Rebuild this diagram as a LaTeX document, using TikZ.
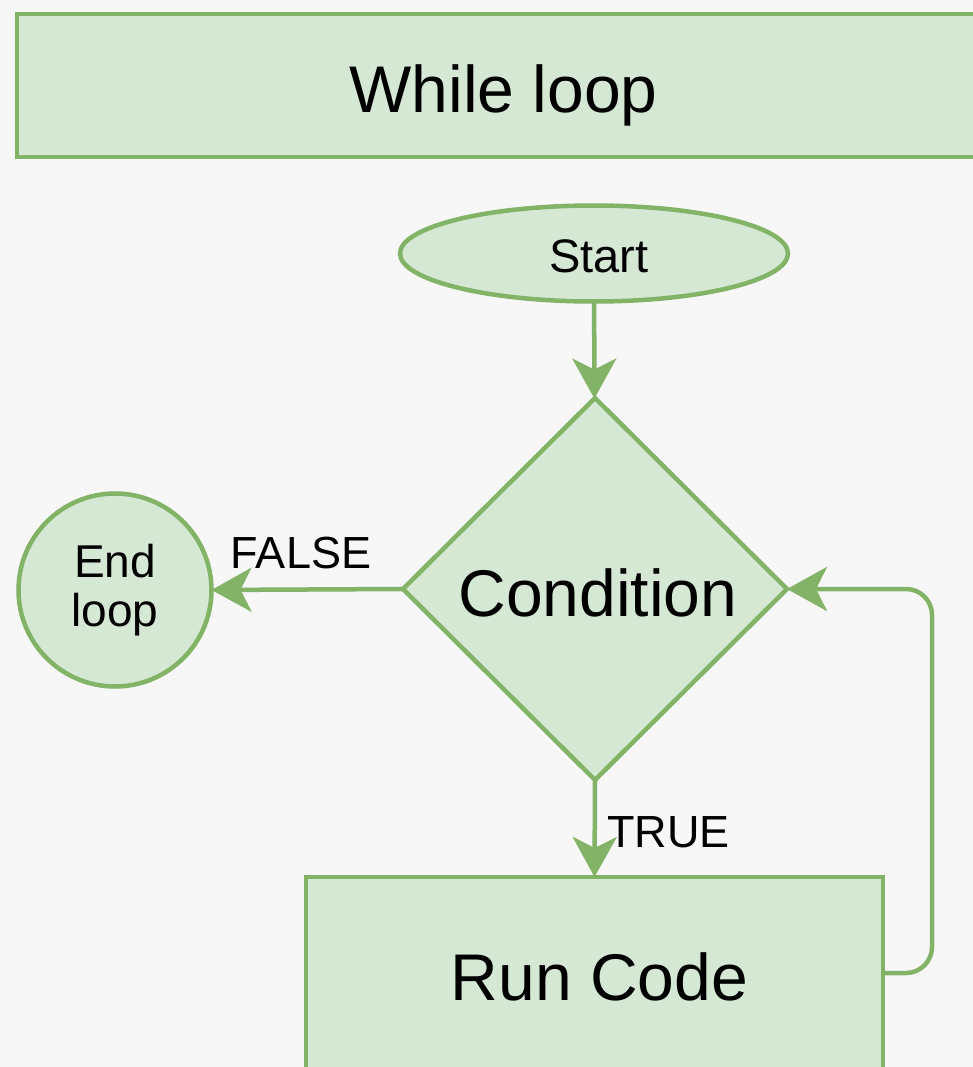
\documentclass[tikz,border=0pt]{standalone}
\usepackage{fontspec}
\setmainfont{Liberation Sans}
\usetikzlibrary{shapes.geometric,arrows.meta}
\definecolor{gstroke}{HTML}{82B366}
\definecolor{gfill}{HTML}{D5E8D4}
\definecolor{bgc}{HTML}{F8F7F7}
\tikzset{
  shp/.style={draw=gstroke, fill=gfill, line width=4.5pt, inner sep=0pt, outer sep=0pt, text=black},
  conn/.style={draw=gstroke, line width=4.5pt, -{Stealth[length=40pt,width=44pt,inset=11pt]}},
  lbl/.style={inner sep=0pt, text=black, font=\fontsize{45pt}{50pt}\selectfont}
}
\begin{document}
\begin{tikzpicture}[x=1pt,y=-1pt]
\fill[bgc] (0,0) rectangle (973,1067);
\useasboundingbox (0,0) rectangle (973,1067);
% title
\node[shp, rectangle, minimum width=973pt, minimum height=143pt, text height=55pt, text depth=0pt,
      font=\fontsize{66pt}{70pt}\selectfont] (title) at (503.5,85.5) {While loop};
% start
\node[shp, ellipse, minimum width=388pt, minimum height=96pt, text height=37pt, text depth=0pt,
      font=\fontsize{47pt}{50pt}\selectfont] (start) at (594,253.5) {\hspace*{10pt}Start};
% condition
\node[shp, diamond, minimum width=384pt, minimum height=382pt, text height=54pt, text depth=0pt,
      font=\fontsize{66pt}{70pt}\selectfont] (cond) at (595,589) {\hspace*{6pt}Condition};
% end loop
\node[shp, circle, minimum size=193pt, align=center,
      font=\fontsize{46pt}{49pt}\selectfont] (endl) at (115,590) {End\\loop};
% run code
\node[shp, rectangle, minimum width=577pt, minimum height=192pt, text height=54pt, text depth=0pt,
      font=\fontsize{66pt}{70pt}\selectfont] (run) at (594.5,973) {\hspace*{10pt}Run Code};
% connectors
\draw[conn] (start) -- (cond);
\draw[conn] (cond.west) -- (endl.east);
\draw[conn] (cond.south) -- (run.north);
\draw[conn, rounded corners=26pt] (run.east) -- ++(49,0) |- (cond.east);
% labels
\node[lbl, anchor=base] (lfalse) at (301,568) {FALSE};
\node[lbl, anchor=base west] (ltrue) at (607,847) {TRUE};
\end{tikzpicture}
\end{document}
